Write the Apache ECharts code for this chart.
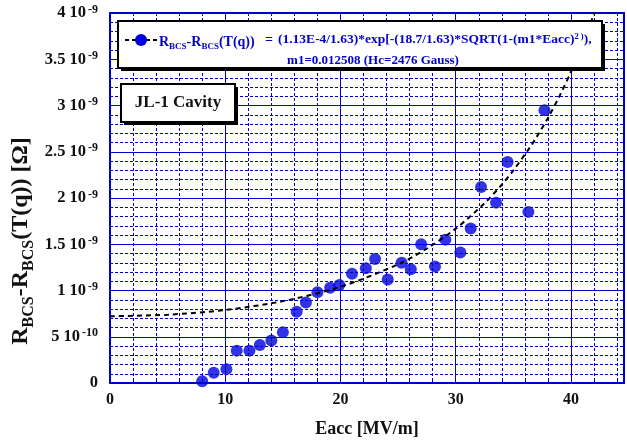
<!DOCTYPE html>
<html>
<head>
<meta charset="utf-8">
<script src="https://cdn.jsdelivr.net/npm/echarts@6/dist/echarts.min.js"></script>
<style>
  html, body { margin: 0; padding: 0; background: #ffffff; }
  #chart { width: 627px; height: 443px; }
</style>
</head>
<body>
<div id="chart"></div>
<script>
// Measured surface resistance difference vs accelerating field (values in units of 1e-9 Ohm)
const eacc = [8.0, 9.0, 10.1, 11.0, 12.1, 13.0, 14.0, 15.0, 16.2, 17.0, 18.0, 19.1, 19.9,
              21.0, 22.2, 23.0, 24.1, 25.3, 26.1, 27.0, 28.2, 29.1, 30.4, 31.3, 32.2,
              33.5, 34.5, 36.3, 37.7];
const rDiff = [0.018, 0.11, 0.15, 0.35, 0.35, 0.41, 0.46, 0.55, 0.77, 0.87, 0.98, 1.03, 1.06,
               1.18, 1.24, 1.34, 1.12, 1.30, 1.23, 1.50, 1.26, 1.55, 1.41, 1.67, 2.12,
               1.95, 2.39, 1.85, 2.95];

// Fit curve samples (units of 1e-9 Ohm)
const fitEacc = [0, 5, 10, 15, 20, 25, 27.5, 30, 32.5, 34, 35, 36.5, 37, 38, 39, 40, 41, 41.5, 42, 42.5];
const fitR = [0.722, 0.738, 0.790, 0.885, 1.040, 1.283, 1.454, 1.669, 1.944, 2.145, 2.298,
              2.559, 2.656, 2.866, 3.101, 3.365, 3.661, 3.822, 3.994, 4.176];

// Y tick labels: mantissa and power of ten
const yTickValues = [0, 0.5, 1, 1.5, 2, 2.5, 3, 3.5, 4];
const yTickMantissa = ['0', '5', '1', '1.5', '2', '2.5', '3', '3.5', '4'];
const yTickExponent = ['', '-10', '-9', '-9', '-9', '-9', '-9', '-9', '-9'];

const SERIF = '"Liberation Serif", "DejaVu Serif", serif';
const GRID_BLUE = '#0000cc';
const DOT_BLUE = '#0000e0';

const chart = echarts.init(document.getElementById('chart'), null, { renderer: 'canvas' });

function yLabel(v) {
  for (let i = 0; i < yTickValues.length; i++) {
    if (Math.abs(yTickValues[i] - v) < 1e-6) {
      if (!yTickExponent[i]) return '{m|' + yTickMantissa[i] + '}';
      return '{m|' + yTickMantissa[i] + ' 10}{e|' + yTickExponent[i] + '}';
    }
  }
  return '';
}

const axisLineStyle = { color: GRID_BLUE, width: 2 };

const option = {
  backgroundColor: '#ffffff',
  animation: false,
  grid: { left: 110, top: 13, right: 1, bottom: 59, containLabel: false },
  xAxis: [
    {
      type: 'value', position: 'bottom', min: 0, max: 44.6, interval: 10,
      axisLine: { show: true, onZero: false, lineStyle: axisLineStyle },
      axisTick: { show: true, inside: true, length: 6, lineStyle: { color: GRID_BLUE, width: 1 } },
      minorTick: { show: true, splitNumber: 5, length: 3, lineStyle: { color: GRID_BLUE } },
      splitLine: { show: true, lineStyle: { color: GRID_BLUE, width: 1 } },
      minorSplitLine: { show: true, lineStyle: { color: GRID_BLUE, width: 1, type: [3, 2] } },
      axisLabel: {
        show: true, margin: 9, color: '#111', fontFamily: SERIF, fontWeight: 'bold', fontSize: 16,
        formatter: v => (v % 10 === 0 ? String(v) : '')
      },
      name: 'Eacc [MV/m]', nameLocation: 'middle', nameGap: 37,
      nameTextStyle: { color: '#111', fontFamily: SERIF, fontWeight: 'bold', fontSize: 18 }
    },
    {
      type: 'value', position: 'top', min: 0, max: 44.6, interval: 10,
      axisLine: { show: true, onZero: false, lineStyle: axisLineStyle },
      axisTick: { show: true, inside: true, length: 6, lineStyle: { color: GRID_BLUE } },
      minorTick: { show: true, splitNumber: 5, length: 3, lineStyle: { color: GRID_BLUE } },
      splitLine: { show: false }, axisLabel: { show: false }
    }
  ],
  yAxis: [
    {
      type: 'value', position: 'left', min: 0, max: 4, interval: 0.5,
      axisLine: { show: true, onZero: false, lineStyle: axisLineStyle },
      axisTick: { show: true, inside: true, length: 6, lineStyle: { color: GRID_BLUE } },
      minorTick: { show: true, splitNumber: 5, length: 3, lineStyle: { color: GRID_BLUE } },
      splitLine: { show: true, lineStyle: { color: GRID_BLUE, width: 1 } },
      minorSplitLine: { show: true, lineStyle: { color: GRID_BLUE, width: 1, type: [3, 2] } },
      axisLabel: {
        show: true, margin: 12, formatter: yLabel,
        rich: {
          m: { color: '#111', fontFamily: SERIF, fontWeight: 'bold', fontSize: 16.5, lineHeight: 19 },
          e: { color: '#111', fontFamily: SERIF, fontWeight: 'bold', fontSize: 12, verticalAlign: 'top', lineHeight: 12, padding: [0, 0, 0, 2] }
        }
      }
    },
    {
      type: 'value', position: 'right', min: 0, max: 4, interval: 0.5,
      axisLine: { show: true, onZero: false, lineStyle: axisLineStyle },
      axisTick: { show: true, inside: true, length: 6, lineStyle: { color: GRID_BLUE } },
      minorTick: { show: true, splitNumber: 5, length: 3, lineStyle: { color: GRID_BLUE } },
      splitLine: { show: false }, axisLabel: { show: false }
    }
  ],
  series: [
    {
      name: 'data', type: 'scatter', xAxisIndex: 0, yAxisIndex: 0,
      data: eacc.map((x, i) => [x, rDiff[i]]),
      symbol: 'circle', symbolSize: 12,
      itemStyle: { color: DOT_BLUE }, z: 3
    },
    {
      name: 'fit', type: 'line', xAxisIndex: 0, yAxisIndex: 0,
      data: fitEacc.map((x, i) => [x, fitR[i]]),
      smooth: 0.3, symbol: 'none', clip: true,
      lineStyle: { color: '#000', width: 2, type: [5, 4] }, z: 4
    }
  ],
  graphic: [
    // Y-axis title
    {
      type: 'text', x: 21, y: 241, rotation: Math.PI / 2, z: 10,
      style: {
        text: '{r|R}{s|BCS}{r|-R}{s|BCS}{r|(T(q)) [Ω]}',
        align: 'center', verticalAlign: 'middle',
        rich: {
          r: { fill: '#111', fontFamily: SERIF, fontWeight: 'bold', fontSize: 24, lineHeight: 31 },
          s: { fill: '#111', fontFamily: SERIF, fontWeight: 'bold', fontSize: 16, lineHeight: 17, verticalAlign: 'bottom' }
        }
      }
    },
    // Fit legend box
    { type: 'rect', shape: { x: 121, y: 24, width: 484, height: 47 }, style: { fill: '#000' }, z: 10 },
    { type: 'rect', shape: { x: 118, y: 21, width: 484, height: 47 }, style: { fill: '#fff', stroke: '#000', lineWidth: 2 }, z: 11 },
    { type: 'line', shape: { x1: 125, y1: 40, x2: 157, y2: 40 }, style: { stroke: '#000', lineWidth: 2, lineDash: [4, 3] }, z: 12 },
    { type: 'circle', shape: { cx: 141, cy: 40, r: 6 }, style: { fill: DOT_BLUE }, z: 13 },
    {
      type: 'text', x: 159, y: 42, z: 12,
      style: {
        text: '{r|R}{s|BCS}{r|-R}{s|BCS}{r|(T(q))}',
        align: 'left', verticalAlign: 'middle',
        rich: {
          r: { fill: '#0000cc', fontFamily: SERIF, fontWeight: 'bold', fontSize: 14, lineHeight: 19 },
          s: { fill: '#0000cc', fontFamily: SERIF, fontWeight: 'bold', fontSize: 9, lineHeight: 10, verticalAlign: 'bottom' }
        }
      }
    },
    {
      type: 'text', x: 265, y: 40, z: 12,
      style: { text: '=', fill: '#0000cc', font: 'bold 14px ' + SERIF, align: 'left', verticalAlign: 'middle' }
    },
    {
      type: 'text', x: 278, y: 40, z: 12,
      style: {
        text: '{r|(1.13E-4/1.63)*exp[-(18.7/1.63)*SQRT(1-(m1*Eacc)}{u|2 )}{r|),}',
        align: 'left', verticalAlign: 'middle',
        rich: {
          r: { fill: '#0000cc', fontFamily: SERIF, fontWeight: 'bold', fontSize: 13.5, lineHeight: 16 },
          u: { fill: '#0000cc', fontFamily: SERIF, fontWeight: 'bold', fontSize: 8.5, lineHeight: 10, verticalAlign: 'top' }
        }
      }
    },
    {
      type: 'text', x: 373, y: 61, z: 12,
      style: { text: 'm1=0.012508 (Hc=2476 Gauss)', fill: '#0000cc', font: 'bold 13px ' + SERIF, align: 'center', verticalAlign: 'middle' }
    },
    // Cavity label box
    { type: 'rect', shape: { x: 124, y: 87, width: 114, height: 38 }, style: { fill: '#000' }, z: 10 },
    { type: 'rect', shape: { x: 121, y: 84, width: 114, height: 38 }, style: { fill: '#fff', stroke: '#000', lineWidth: 2 }, z: 11 },
    {
      type: 'text', x: 178, y: 103, z: 12,
      style: { text: 'JL-1 Cavity', fill: '#111', font: 'bold 17px ' + SERIF, align: 'center', verticalAlign: 'middle' }
    }
  ]
};

chart.setOption(option);
</script>
</body>
</html>
